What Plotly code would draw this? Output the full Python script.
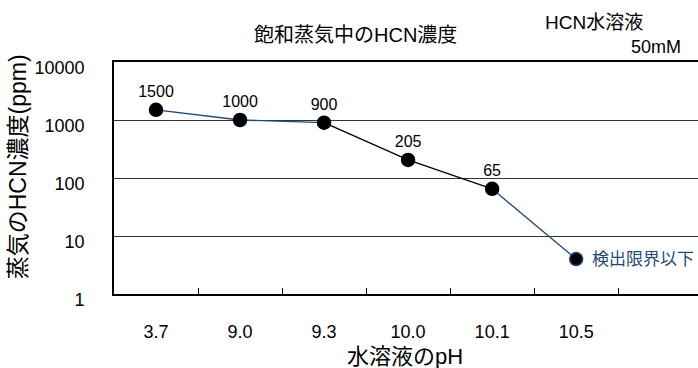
import plotly.graph_objects as go

# pH of the HCN solution and the HCN concentration measured in the saturated vapour
ph_labels = ["3.7", "9.0", "9.3", "10.0", "10.1", "10.5"]
hcn_ppm = [1500, 1000, 900, 205, 65, 4]
value_labels = ["1500", "1000", "900", "205", "65", ""]
y_ticks = [1, 10, 100, 1000, 10000]
y_tick_text = ["1", "10", "100", "1000", "10000"]

NAVY = "#1c4a7a"
FONT = "Liberation Sans, Arial, Noto Sans CJK JP, sans-serif"

fig = go.Figure()

# connecting line: navy at both ends, black in the middle
segments = [(0, 3, NAVY), (2, 5, "black"), (4, 6, NAVY)]
for a, b, col in segments:
    fig.add_trace(go.Scatter(
        x=ph_labels[a:b], y=hcn_ppm[a:b], mode="lines",
        line=dict(color=col, width=1.3), hoverinfo="skip", showlegend=False))

fig.add_trace(go.Scatter(
    x=ph_labels, y=hcn_ppm, mode="markers+text",
    text=value_labels, textposition="top center",
    textfont=dict(size=16, color="black", family=FONT),
    marker=dict(size=13, color="black",
                line=dict(color=["black"] * 5 + [NAVY], width=1.5)),
    showlegend=False))

# note next to the last point (below the detection limit)
last = len(ph_labels) - 1
fig.add_annotation(x=last, y=0.602, xref="x", yref="y",
                   text="検出限界以下", showarrow=False,
                   xanchor="left", yanchor="middle", xshift=14,
                   font=dict(size=17, color=NAVY, family=FONT))


def label(text, x, y, size, xanchor="center", angle=0):
    fig.add_annotation(x=x, y=y, xref="paper", yref="paper", text=text,
                       showarrow=False, xanchor=xanchor, yanchor="middle",
                       textangle=angle,
                       font=dict(size=size, color="black", family=FONT))


label("飽和蒸気中のHCN濃度", 0.4127, 1.118, 20)
label("HCN水溶液", 0.822, 1.172, 19)
label("50mM", 0.974, 1.065, 18, xanchor="right")
label("蒸気のHCN濃度(ppm)", -0.164, 0.547, 23, angle=-90)
label("水溶液のpH", 0.498, -0.268, 22)

fig.update_layout(
    width=698, height=368,
    margin=dict(l=114, r=0, t=62, b=74),
    paper_bgcolor="white", plot_bgcolor="white",
    font=dict(family=FONT, color="black"),
    xaxis=dict(type="category", categoryorder="array", categoryarray=ph_labels,
               range=[-0.5, 6.45], showgrid=False,
               showline=True, linecolor="black", linewidth=1.6, mirror=True,
               ticks="inside", tickson="boundaries", ticklen=6,
               tickcolor="black", tickwidth=1,
               tickfont=dict(size=18, color="black"), ticklabelstandoff=21),
    yaxis=dict(type="log", range=[0, 4], tickvals=y_ticks, ticktext=y_tick_text,
               showgrid=True, gridcolor="#333333", gridwidth=1,
               showline=True, linecolor="black", linewidth=1.6,
               ticks="", tickfont=dict(size=18, color="black"),
               ticklabelstandoff=24, ticklabelshift=6, zeroline=False),
)

fig.write_html("out.html")
